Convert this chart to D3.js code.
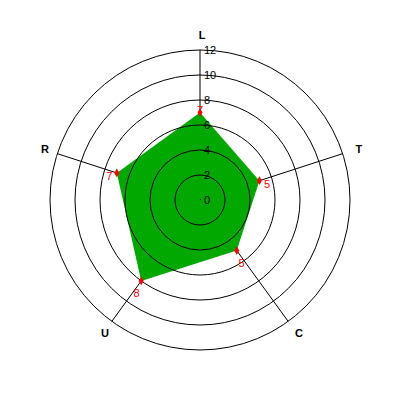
<!DOCTYPE html>
<html>
<head>
<meta charset="utf-8">
<script src="https://cdn.jsdelivr.net/npm/d3@7"></script>
<style>
  body { margin: 0; background: #fff; }
  svg { display: block; }
</style>
</head>
<body>
<div id="chart"></div>
<script>
(function() {
  var categories = ["L", "T", "C", "U", "R"];
  var values = [7, 5, 5, 8, 7];
  var ticks = [0, 2, 4, 6, 8, 10, 12];
  var maxValue = 12;

  var width = 400, height = 400;
  var cx = 200, cy = 200, radius = 150;

  var rr = d3.scaleLinear().domain([0, maxValue]).range([0, radius]);
  var angle = d3.scaleLinear().domain([0, categories.length]).range([-Math.PI / 2, 1.5 * Math.PI]);

  var pt = function(i, r) {
    var a = angle(i);
    return [Math.cos(a) * r, Math.sin(a) * r];
  };

  var svg = d3.select("#chart").append("svg")
    .attr("width", width).attr("height", height);
  var g = svg.append("g").attr("transform", "translate(" + cx + "," + cy + ")");

  // axes (drawn under the polygon)
  g.selectAll("line.axis").data(categories).enter().append("line")
    .attr("class", "axis")
    .attr("x1", 0).attr("y1", 0)
    .attr("x2", (d, i) => pt(i, rr(maxValue))[0])
    .attr("y2", (d, i) => pt(i, rr(maxValue))[1])
    .attr("stroke", "#000").attr("stroke-width", 1);

  // data polygon
  var line = d3.lineRadial()
    .angle((d, i) => angle(i) + Math.PI / 2)
    .radius((d) => rr(d))
    .curve(d3.curveLinearClosed);
  g.append("path").datum(values)
    .attr("d", line)
    .attr("fill", "#00a800")
    .attr("stroke", "none");

  // rings
  g.selectAll("circle.ring").data(ticks.filter((t) => t > 0)).enter().append("circle")
    .attr("class", "ring")
    .attr("r", (d) => rr(d))
    .attr("fill", "none").attr("stroke", "#000").attr("stroke-width", 1);
  g.append("rect").attr("x", 0).attr("y", -1).attr("width", 1).attr("height", 1).attr("fill", "#000");

  // tick labels
  g.selectAll("text.tick").data(ticks).enter().append("text")
    .attr("class", "tick")
    .attr("x", 4)
    .attr("y", (d) => -rr(d))
    .attr("dy", "0.35em")
    .style("font-family", "'Liberation Sans', Arial, sans-serif")
    .style("font-size", "11px")
    .attr("fill", "#000")
    .text((d) => d);

  // category labels
  g.selectAll("text.cat").data(categories).enter().append("text")
    .attr("class", "cat")
    .attr("x", (d, i) => pt(i, rr(maxValue) + 15)[0] + 2)
    .attr("y", (d, i) => pt(i, rr(maxValue) + 15)[1])
    .attr("dy", "0.35em")
    .attr("text-anchor", "middle")
    .style("font-family", "'Liberation Sans', Arial, sans-serif")
    .style("font-size", "11px")
    .style("font-weight", "bold")
    .attr("fill", "#000")
    .text((d) => d);

  // markers
  g.selectAll("path.marker").data(values).enter().append("path")
    .attr("class", "marker")
    .attr("d", d3.symbol().type(d3.symbolDiamond).size(22))
    .attr("transform", (d, i) => "translate(" + pt(i, rr(d)) + ")")
    .attr("fill", "#ff0000");

  // value labels
  g.selectAll("text.val").data(values).enter().append("text")
    .attr("class", "val")
    .attr("x", (d, i) => pt(i, rr(d) + 8)[0])
    .attr("y", (d, i) => pt(i, rr(d) + 8)[1] + 6)
    .attr("dy", "0.35em")
    .attr("text-anchor", "middle")
    .style("font-family", "'Liberation Sans', Arial, sans-serif")
    .style("font-size", "11px")
    .attr("fill", "#ff0000")
    .text((d) => d);
})();
</script>
</body>
</html>
